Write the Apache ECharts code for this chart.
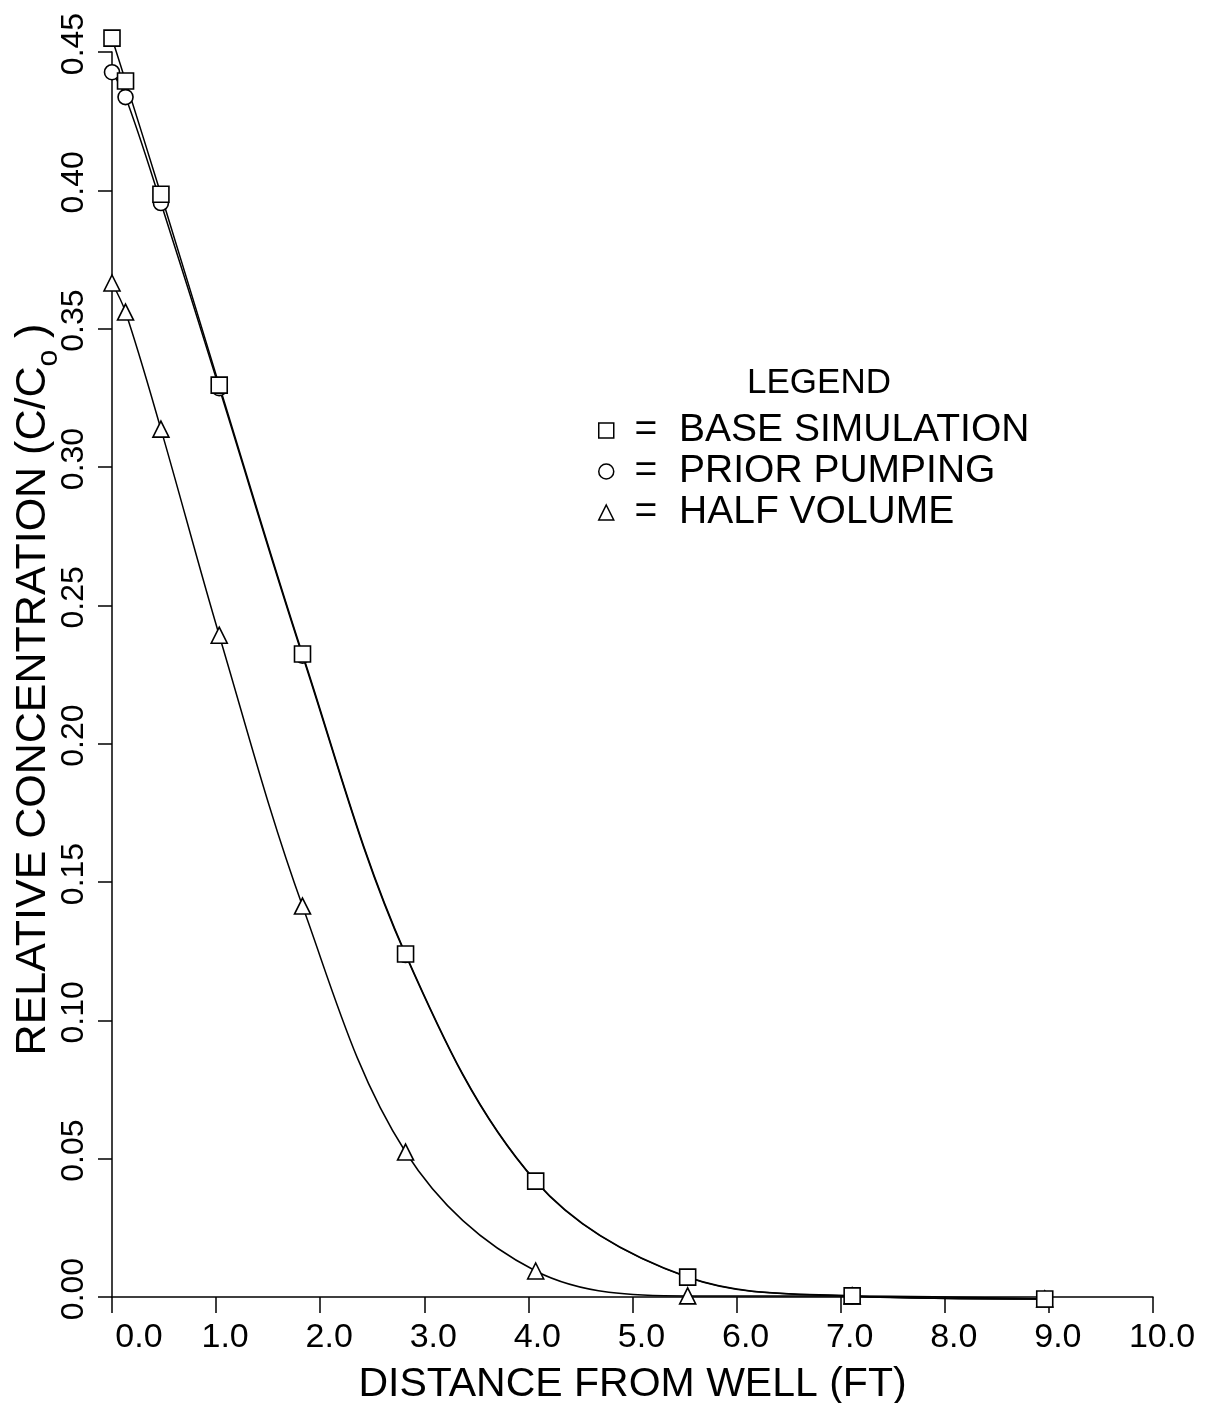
<!DOCTYPE html>
<html>
<head>
<meta charset="utf-8">
<script src="https://cdn.jsdelivr.net/npm/echarts@6/dist/echarts.min.js"></script>
<style>
  html, body { margin: 0; padding: 0; background: #ffffff; }
  #chart { width: 1212px; height: 1403px; }
</style>
</head>
<body>
<div id="chart"></div>
<script>
// Radial grid nodes (ft) at which concentrations were computed
const distanceFt = [0.0, 0.13, 0.47, 1.03, 1.83, 2.82, 4.07, 5.53, 7.11, 8.96];

// Relative concentration C/Co at each node
const baseSimulation = [0.455, 0.4395, 0.3986, 0.3296, 0.2324, 0.1240, 0.0419, 0.0072, 0.0004, -0.0007];
const priorPumping   = [0.4427, 0.4337, 0.3954, 0.3285, 0.2318, 0.1236, 0.0417, 0.0071, 0.0003, -0.0007];
const halfVolume     = [0.3665, 0.3560, 0.3137, 0.2392, 0.1413, 0.0524, 0.0094, 0.0004, 0.0004, -0.0007];

// Axis ranges
const xRange = { min: 0, max: 10, interval: 1 };
const yRange = { min: 0, max: 0.45, interval: 0.05 };

const seriesNames = ['BASE SIMULATION', 'PRIOR PUMPING', 'HALF VOLUME'];

const FONT = '"Liberation Sans", Arial, sans-serif';
const INK = '#000000';

function pairs(xs, ys) {
  return ys.map((y, i) => [xs[i], y]);
}

const chart = echarts.init(document.getElementById('chart'), null, { renderer: 'canvas' });

const markerStyle = { color: '#ffffff', borderColor: INK, borderWidth: 1.6 };
const lineStyle = { color: INK, width: 1.5 };

chart.setOption({
  backgroundColor: '#ffffff',
  animation: false,
  grid: { left: 112, right: 59, top: 52, bottom: 106, containLabel: false, outerBoundsMode: 'none' },
  title: {
    text: 'LEGEND',
    left: 742, top: 361,
    textStyle: { fontFamily: FONT, fontSize: 35, fontWeight: 'normal', color: INK }
  },
  legend: {
    orient: 'vertical',
    left: 593, top: 406,
    itemWidth: 15, itemHeight: 15, itemGap: 2,
    selectedMode: false,
    data: [
      { name: seriesNames[0], icon: 'rect' },
      { name: seriesNames[1], icon: 'circle' },
      { name: seriesNames[2], icon: 'triangle' }
    ],
    formatter: n => ' {eq|=}  ' + n,
    itemStyle: { color: '#ffffff', borderColor: INK, borderWidth: 1.5 },
    textStyle: {
      fontFamily: FONT, fontSize: 39, color: INK,
      rich: { eq: { fontFamily: FONT, fontSize: 39, color: INK, padding: [0, 0, 0, 5] } }
    }
  },
  xAxis: {
    type: 'value',
    min: xRange.min, max: xRange.max, interval: xRange.interval,
    name: 'DISTANCE FROM WELL (FT)',
    nameLocation: 'middle', nameGap: 67, nameMoveOverlap: false,
    nameTextStyle: { fontFamily: FONT, fontSize: 41, color: INK },
    axisLine: { show: true, onZero: false, lineStyle: { color: INK, width: 1.5 } },
    axisTick: { show: true, length: 16, lineStyle: { color: INK, width: 1.5 } },
    splitLine: { show: false },
    axisLabel: {
      margin: 24,
      color: INK,
      fontFamily: FONT, fontSize: 34,
      formatter: v => (v === 0 ? '{f|' : '{a|') + v.toFixed(1) + '}',
      rich: {
        a: { fontFamily: FONT, fontSize: 34, color: INK, padding: [0, 0, 0, 18] },
        f: { fontFamily: FONT, fontSize: 34, color: INK, padding: [0, 0, 0, 54] }
      }
    }
  },
  yAxis: {
    type: 'value',
    min: yRange.min, max: yRange.max, interval: yRange.interval,
    name: '{n|RELATIVE CONCENTRATION (C/C}{s|o}{e| )}',
    nameLocation: 'middle', nameGap: 48, nameRotate: 90, nameMoveOverlap: false,
    nameTextStyle: {
      rich: {
        n: { fontFamily: FONT, fontSize: 43, color: INK, lineHeight: 52, verticalAlign: 'top' },
        e: { fontFamily: FONT, fontSize: 43, color: INK, lineHeight: 52, verticalAlign: 'top', padding: [0, 30, 0, 0] },
        s: { fontFamily: FONT, fontSize: 30, color: INK, lineHeight: 24, verticalAlign: 'bottom' }
      }
    },
    axisLine: { show: true, onZero: false, lineStyle: { color: INK, width: 1.5 } },
    axisTick: { show: true, length: 14, lineStyle: { color: INK, width: 1.5 } },
    splitLine: { show: false },
    axisLabel: {
      rotate: 90,
      margin: 22,
      color: INK,
      fontFamily: FONT, fontSize: 32,
      formatter: v => '{a|' + v.toFixed(2) + '}',
      rich: {
        a: { fontFamily: FONT, fontSize: 32, color: INK, padding: [0, 0, 0, 16] }
      }
    }
  },
  series: [
    {
      name: seriesNames[1], type: 'line',
      data: pairs(distanceFt, priorPumping),
      smooth: 0.35, clip: false,
      symbol: 'circle', symbolSize: 15,
      itemStyle: markerStyle, lineStyle: lineStyle
    },
    {
      name: seriesNames[2], type: 'line',
      data: pairs(distanceFt, halfVolume),
      smooth: 0.35, clip: false,
      symbol: 'triangle', symbolSize: 16,
      itemStyle: markerStyle, lineStyle: lineStyle
    },
    {
      name: seriesNames[0], type: 'line',
      data: pairs(distanceFt, baseSimulation),
      smooth: 0.35, clip: false,
      symbol: 'rect', symbolSize: 16,
      itemStyle: markerStyle, lineStyle: lineStyle
    }
  ]
});
</script>
</body>
</html>
